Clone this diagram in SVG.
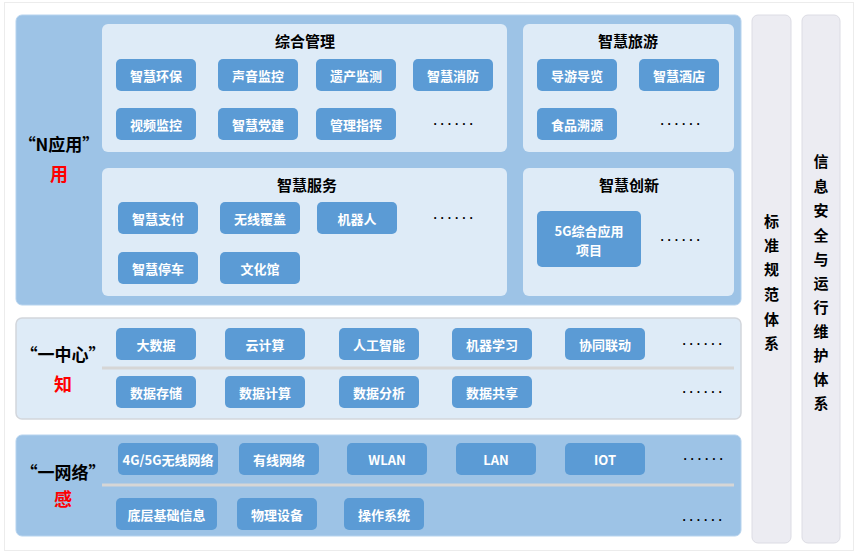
<svg xmlns="http://www.w3.org/2000/svg" width="854" height="551" viewBox="0 0 854 551">
<style>
text{font-family:"Noto Sans CJK SC","Noto Sans",sans-serif;font-weight:bold;dominant-baseline:central;text-anchor:middle}
.panel{fill:#9dc3e6;stroke:#b6d3ee;stroke-width:1}
.panel2{fill:#deebf7;stroke:#d2d6dc;stroke-width:1.5}
.inner{fill:#deebf7}
.btn{fill:#5b9bd5}
.bt{fill:#ffffff;font-size:13px}
.title{fill:#000;font-size:15px}
.lab{fill:#000;font-size:17px}
.red{fill:#ff0000;font-size:18px}
.dots{fill:#000;font-family:"Liberation Sans",Arial,sans-serif;font-size:12px;letter-spacing:3.2px}
.col{fill:#ececf2;stroke:#dcdce4;stroke-width:1}
.vt{fill:#000;font-size:15px}
.sep{fill:#d6d6d6}
</style>
<rect x="0" y="0" width="854" height="551" fill="#ffffff"/>
<rect x="4.5" y="2.5" width="849" height="548" fill="none" stroke="#ececec" stroke-width="1"/>

<g id="layer-app">
<rect class="panel" x="16" y="15" width="725" height="290" rx="6"/>
<text class="lab" x="59" y="143">“N应用”</text>
<text class="red" x="59" y="173">用</text>
</g>

<g id="group-zonghe">
<rect class="inner" x="102" y="24" width="405" height="128" rx="6"/>
<text class="title" x="305" y="40">综合管理</text>
<rect class="btn" x="116" y="59" width="80" height="32" rx="5"/><text class="bt" x="156" y="75">智慧环保</text>
<rect class="btn" x="218" y="59" width="80" height="32" rx="5"/><text class="bt" x="258" y="75">声音监控</text>
<rect class="btn" x="316" y="59" width="80" height="32" rx="5"/><text class="bt" x="356" y="75">遗产监测</text>
<rect class="btn" x="413" y="59" width="80" height="32" rx="5"/><text class="bt" x="453" y="75">智慧消防</text>
<rect class="btn" x="116" y="108" width="80" height="32" rx="5"/><text class="bt" x="156" y="124">视频监控</text>
<rect class="btn" x="218" y="108" width="80" height="32" rx="5"/><text class="bt" x="258" y="124">智慧党建</text>
<rect class="btn" x="316" y="108" width="80" height="32" rx="5"/><text class="bt" x="356" y="124">管理指挥</text>
<text class="dots" x="455" y="124">······</text>
</g>

<g id="group-lvyou">
<rect class="inner" x="523" y="24" width="211" height="128" rx="6"/>
<text class="title" x="628" y="40">智慧旅游</text>
<rect class="btn" x="537" y="59" width="80" height="32" rx="5"/><text class="bt" x="577" y="75">导游导览</text>
<rect class="btn" x="639" y="59" width="80" height="32" rx="5"/><text class="bt" x="679" y="75">智慧酒店</text>
<rect class="btn" x="537" y="108" width="80" height="32" rx="5"/><text class="bt" x="577" y="124">食品溯源</text>
<text class="dots" x="682" y="124">······</text>
</g>

<g id="group-fuwu">
<rect class="inner" x="102" y="168" width="405" height="128" rx="6"/>
<text class="title" x="307" y="184">智慧服务</text>
<rect class="btn" x="118" y="202" width="80" height="32" rx="5"/><text class="bt" x="158" y="218">智慧支付</text>
<rect class="btn" x="220" y="202" width="80" height="32" rx="5"/><text class="bt" x="260" y="218">无线覆盖</text>
<rect class="btn" x="317" y="202" width="80" height="32" rx="5"/><text class="bt" x="357" y="218">机器人</text>
<text class="dots" x="455" y="218">······</text>
<rect class="btn" x="118" y="252" width="80" height="32" rx="5"/><text class="bt" x="158" y="268">智慧停车</text>
<rect class="btn" x="220" y="252" width="80" height="32" rx="5"/><text class="bt" x="260" y="268">文化馆</text>
</g>

<g id="group-chuangxin">
<rect class="inner" x="523" y="168" width="211" height="128" rx="6"/>
<text class="title" x="629" y="184">智慧创新</text>
<rect class="btn" x="537" y="211" width="104" height="56" rx="5"/>
<text class="bt" x="589" y="230">5G综合应用</text>
<text class="bt" x="589" y="249">项目</text>
<text class="dots" x="682" y="240">······</text>
</g>

<g id="layer-center">
<rect class="panel2" x="16" y="318" width="725" height="101" rx="6"/>
<text class="lab" x="63" y="353">“一中心”</text>
<text class="red" x="63" y="383">知</text>
<rect class="sep" x="102" y="366.5" width="632" height="3"/>
<rect class="btn" x="116" y="328" width="80" height="32" rx="5"/><text class="bt" x="156" y="344">大数据</text>
<rect class="btn" x="225" y="328" width="80" height="32" rx="5"/><text class="bt" x="265" y="344">云计算</text>
<rect class="btn" x="339" y="328" width="80" height="32" rx="5"/><text class="bt" x="379" y="344">人工智能</text>
<rect class="btn" x="452" y="328" width="80" height="32" rx="5"/><text class="bt" x="492" y="344">机器学习</text>
<rect class="btn" x="565" y="328" width="80" height="32" rx="5"/><text class="bt" x="605" y="344">协同联动</text>
<text class="dots" x="704" y="344">······</text>
<rect class="btn" x="116" y="376" width="80" height="32" rx="5"/><text class="bt" x="156" y="392">数据存储</text>
<rect class="btn" x="225" y="376" width="80" height="32" rx="5"/><text class="bt" x="265" y="392">数据计算</text>
<rect class="btn" x="339" y="376" width="80" height="32" rx="5"/><text class="bt" x="379" y="392">数据分析</text>
<rect class="btn" x="452" y="376" width="80" height="32" rx="5"/><text class="bt" x="492" y="392">数据共享</text>
<text class="dots" x="704" y="392">······</text>
</g>

<g id="layer-network">
<rect class="panel" x="16" y="435" width="725" height="101" rx="6"/>
<text class="lab" x="63" y="471">“一网络”</text>
<text class="red" x="63" y="498">感</text>
<rect class="sep" x="102" y="483.5" width="632" height="3"/>
<rect class="btn" x="118" y="443" width="100" height="32" rx="5"/><text class="bt" x="168" y="459">4G/5G无线网络</text>
<rect class="btn" x="239" y="443" width="80" height="32" rx="5"/><text class="bt" x="279" y="459">有线网络</text>
<rect class="btn" x="347" y="443" width="80" height="32" rx="5"/><text class="bt" x="387" y="459">WLAN</text>
<rect class="btn" x="456" y="443" width="80" height="32" rx="5"/><text class="bt" x="496" y="459">LAN</text>
<rect class="btn" x="565" y="443" width="80" height="32" rx="5"/><text class="bt" x="605" y="459">IOT</text>
<text class="dots" x="705" y="459">······</text>
<rect class="btn" x="116" y="498" width="101" height="32" rx="5"/><text class="bt" x="166.5" y="514">底层基础信息</text>
<rect class="btn" x="237" y="498" width="80" height="32" rx="5"/><text class="bt" x="277" y="514">物理设备</text>
<rect class="btn" x="344" y="498" width="80" height="32" rx="5"/><text class="bt" x="384" y="514">操作系统</text>
<text class="dots" x="704" y="520">······</text>
</g>

<g id="col-standard">
<rect class="col" x="752" y="15" width="39" height="528" rx="6"/>
<text class="vt" x="771.5" y="220">标</text>
<text class="vt" x="771.5" y="244">准</text>
<text class="vt" x="771.5" y="268">规</text>
<text class="vt" x="771.5" y="293">范</text>
<text class="vt" x="771.5" y="318">体</text>
<text class="vt" x="771.5" y="342">系</text>
</g>

<g id="col-security">
<rect class="col" x="802" y="15" width="38" height="528" rx="6"/>
<text class="vt" x="821" y="160">信</text>
<text class="vt" x="821" y="185">息</text>
<text class="vt" x="821" y="209">安</text>
<text class="vt" x="821" y="234">全</text>
<text class="vt" x="821" y="258">与</text>
<text class="vt" x="821" y="282">运</text>
<text class="vt" x="821" y="306">行</text>
<text class="vt" x="821" y="330">维</text>
<text class="vt" x="821" y="354">护</text>
<text class="vt" x="821" y="378">体</text>
<text class="vt" x="821" y="402">系</text>
</g>

<g id="connectors"></g>
</svg>
